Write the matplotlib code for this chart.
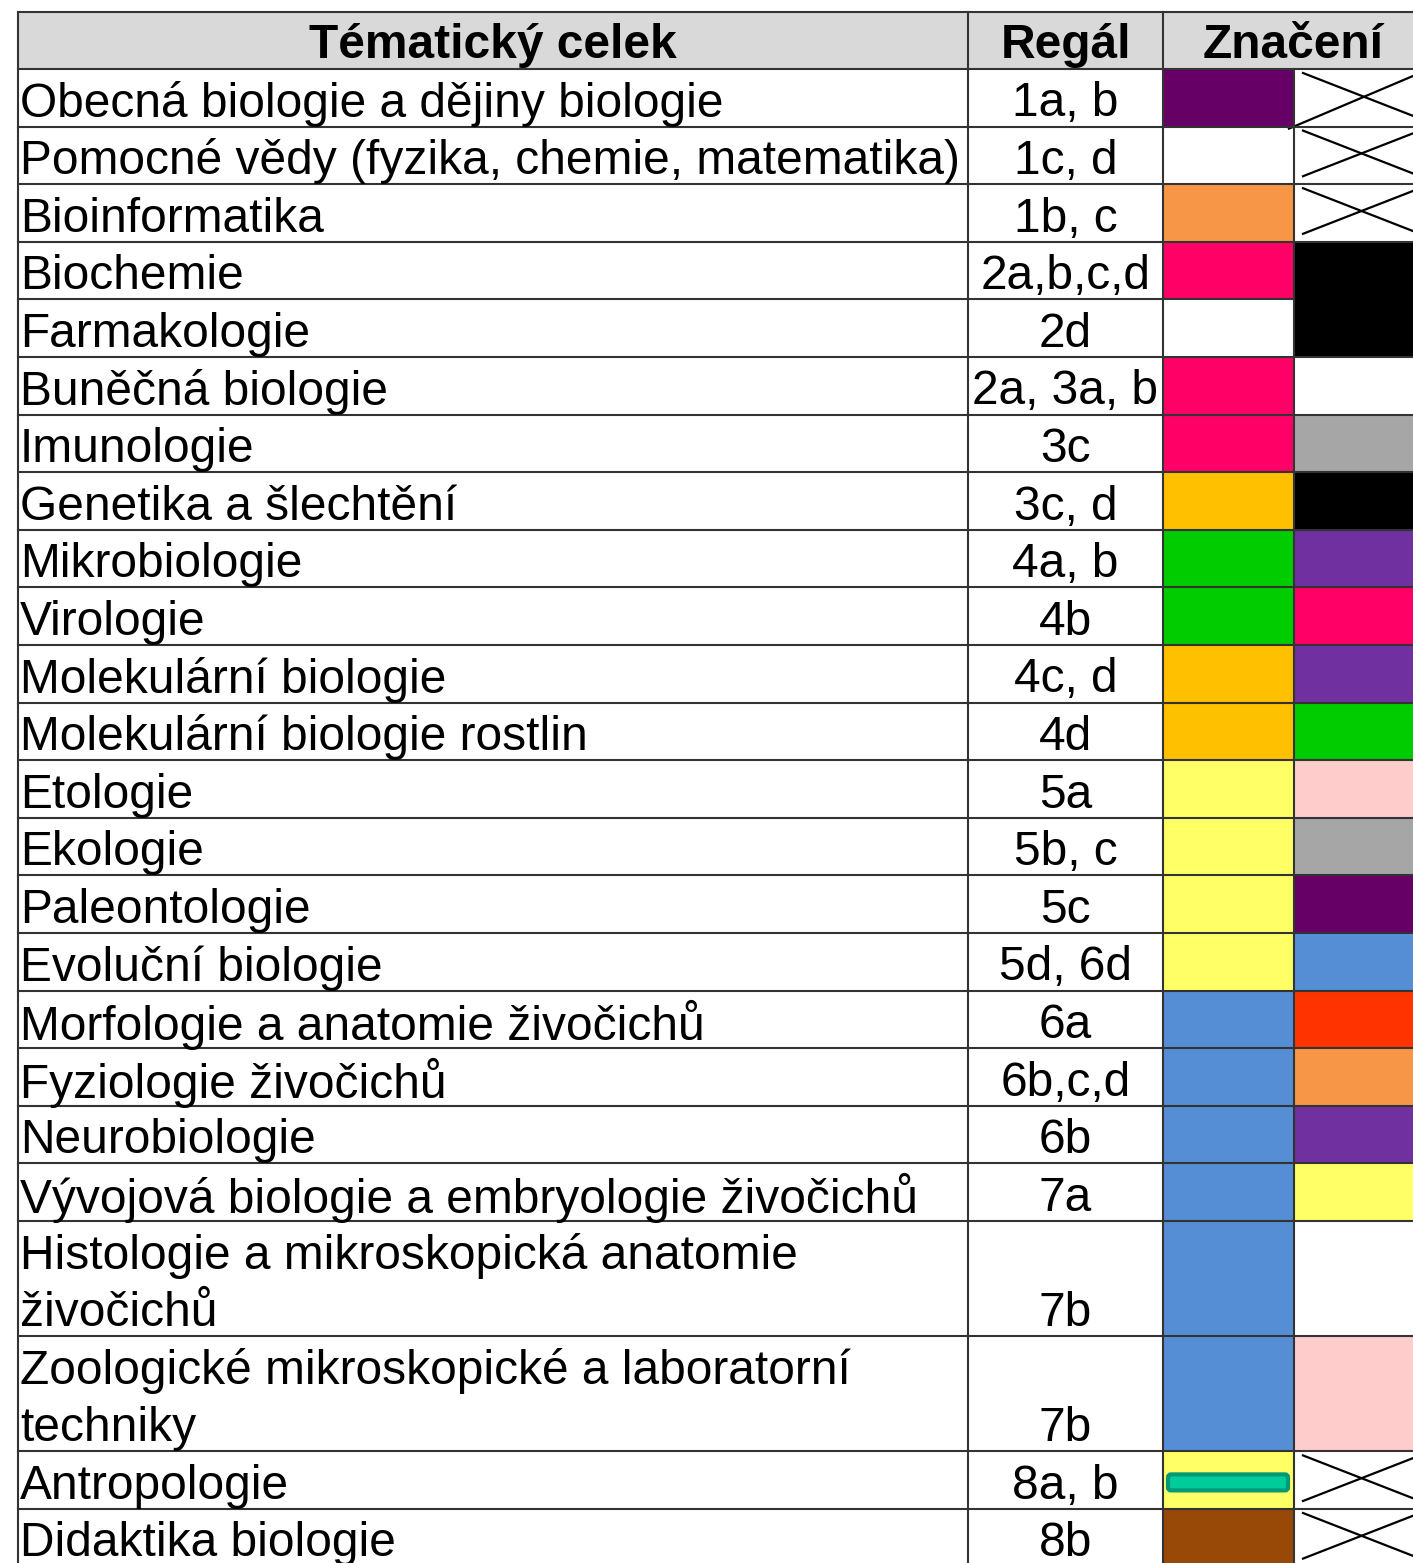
import matplotlib.pyplot as plt
from matplotlib.patches import Rectangle, FancyBboxPatch

plt.rcParams['font.family'] = ['Liberation Sans', 'DejaVu Sans']

# data
topics = [
    "Obecná biologie a dějiny biologie",
    "Pomocné vědy (fyzika, chemie, matematika)",
    "Bioinformatika",
    "Biochemie",
    "Farmakologie",
    "Buněčná biologie",
    "Imunologie",
    "Genetika a šlechtění",
    "Mikrobiologie",
    "Virologie",
    "Molekulární biologie",
    "Molekulární biologie rostlin",
    "Etologie",
    "Ekologie",
    "Paleontologie",
    "Evoluční biologie",
    "Morfologie a anatomie živočichů",
    "Fyziologie živočichů",
    "Neurobiologie",
    "Vývojová biologie a embryologie živočichů",
    "Histologie a mikroskopická anatomie\nživočichů",
    "Zoologické mikroskopické a laboratorní\ntechniky",
    "Antropologie",
    "Didaktika biologie",
]
shelves = ["1a, b", "1c, d", "1b, c", "2a,b,c,d", "2d", "2a, 3a, b", "3c", "3c, d",
           "4a, b", "4b", "4c, d", "4d", "5a", "5b, c", "5c", "5d, 6d", "6a", "6b,c,d",
           "6b", "7a", "7b", "7b", "8a, b", "8b"]
mark1 = ["#660066", "#FFFFFF", "#F79646", "#FF0066", "#FFFFFF", "#FF0066", "#FF0066",
         "#FFC000", "#00CC00", "#00CC00", "#FFC000", "#FFC000", "#FFFF66", "#FFFF66",
         "#FFFF66", "#FFFF66", "#558ED5", "#558ED5", "#558ED5", "#558ED5", "#558ED5",
         "#558ED5", "#FFFF66", "#984807"]
# 'x' = crossed out cell
mark2 = ["x", "x", "x", "#000000", "#000000", "#FFFFFF", "#A6A6A6", "#000000",
         "#7030A0", "#FF0066", "#7030A0", "#00CC00", "#FFCCCC", "#A6A6A6", "#660066",
         "#558ED5", "#FF3300", "#F79646", "#7030A0", "#FFFF66", "#FFFFFF", "#FFCCCC",
         "x", "x"]
merged2 = [(3, 4)]          # rows sharing one cell in the second mark column
stripe_rows = [22]          # teal stripe drawn on top of mark1
headers = ["Tématický celek", "Regál", "Značení"]

# layout (pixels)
W, H = 1413, 1563
COLS = [18, 968, 1163, 1294, 1530]
TOP = 12
HEAD_H = 57
ROW_H = 57.6
FS = 34.5
GRID = "#333333"

fig = plt.figure(figsize=(W / 100, H / 100), dpi=100)
ax = fig.add_axes([0, 0, 1, 1])
ax.set_xlim(0, W)
ax.set_ylim(H, 0)
ax.axis('off')

# header
ax.add_patch(Rectangle((COLS[0], TOP), COLS[4] - COLS[0], HEAD_H, fc="#D9D9D9", ec="none"))
hc = [(COLS[0] + COLS[1]) / 2, (COLS[1] + COLS[2]) / 2, (COLS[2] + 1413) / 2 + 5]
for t, x in zip(headers, hc):
    ax.text(x, TOP + HEAD_H / 2 + 5, t, fontsize=FS, fontweight='bold', ha='center', va='center')

# row positions
tops = []
y = TOP + HEAD_H
for t in topics:
    n = t.count("\n") + 1
    tops.append((y, n * ROW_H))
    y += n * ROW_H

merged_skip = set()
for a, b in merged2:
    merged_skip.update(range(a + 1, b + 1))

for i, (y0, h) in enumerate(tops):
    # mark 1
    ax.add_patch(Rectangle((COLS[2], y0), COLS[3] - COLS[2], h, fc=mark1[i], ec="none"))
    # mark 2
    m = mark2[i]
    if m == "x":
        x_start = 1289 if i == 0 else 1303
        ax.plot([1303, 1420], [y0 + 4, y0 + h - 8], color="black", lw=1.6)
        ax.plot([x_start, 1420], [y0 + h + (2 if i == 0 else -8), y0 + 4], color="black", lw=1.6)
    elif i not in merged_skip:
        hh = h
        for a, b in merged2:
            if a == i:
                hh = sum(tops[k][1] for k in range(a, b + 1))
        ax.add_patch(Rectangle((COLS[3], y0), COLS[4] - COLS[3], hh, fc=m, ec="none"))
    if i in stripe_rows:
        ax.add_patch(FancyBboxPatch((1168, y0 + 23), 120, 16, boxstyle="round,pad=0,rounding_size=3",
                                    fc="#00CC99", ec="#009977", lw=3))
    # texts
    lines = topics[i].split("\n")
    for k, ln in enumerate(lines):
        ax.text(20, y0 + ROW_H * (k + 0.5) + 6, ln, fontsize=FS, ha='left', va='center')
    ax.text((COLS[1] + COLS[2]) / 2, y0 + h - ROW_H / 2 + 6, shelves[i], fontsize=FS,
            ha='center', va='center')

# grid lines
bottom = H + 10
ax.plot([COLS[0], W + 10], [TOP, TOP], color=GRID, lw=1.5)
ax.plot([COLS[0], W + 10], [TOP + HEAD_H, TOP + HEAD_H], color=GRID, lw=1.5)
for i, (y0, h) in enumerate(tops):
    yb = y0 + h
    if i in [a for a, b in merged2]:
        ax.plot([COLS[0], COLS[3]], [yb, yb], color=GRID, lw=1.5)
    else:
        ax.plot([COLS[0], W + 10], [yb, yb], color=GRID, lw=1.5)
for x in COLS[:3]:
    ax.plot([x, x], [TOP, bottom], color=GRID, lw=1.5)
ax.plot([COLS[3], COLS[3]], [TOP + HEAD_H, bottom], color=GRID, lw=1.5)

fig.savefig("out.png", dpi=100)
